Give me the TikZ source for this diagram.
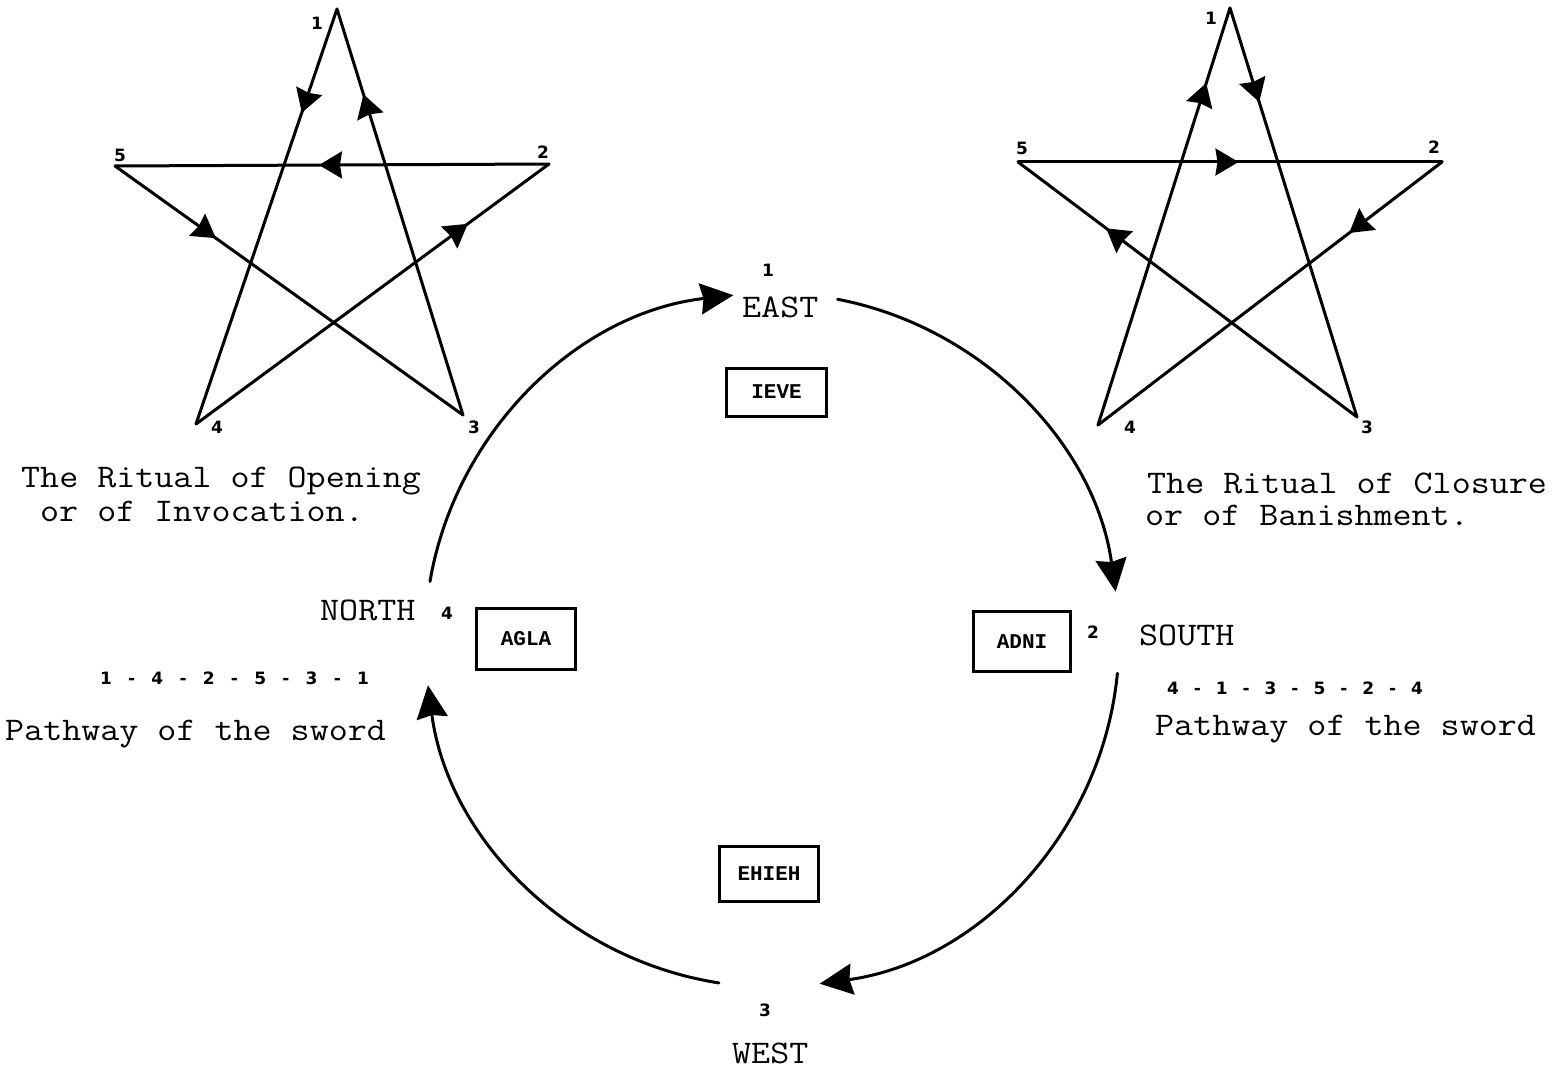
\documentclass[tikz,border=0pt]{standalone}
\usepackage{fontspec}
\usepackage{graphicx}
\setmainfont{Liberation Serif}
\newfontfamily\boxfont{Liberation Mono}
\newfontfamily\numfont{DejaVu Sans}
\usetikzlibrary{arrows.meta,decorations.markings}
\newcommand\cell[2]{\makebox[#1]{#2}}
\newcommand\tw[1]{\scalebox{1.12}[1]{#1}}
\begin{document}
\begin{tikzpicture}[x=1pt,y=1pt,
  edge/.style={line width=3pt,line cap=round},
  tipat/.style={postaction={decorate,decoration={markings,
      mark=at position #1 with {\arrow{Stealth[length=23pt,width=27pt,inset=2pt]}}}}},
  circarr/.style={line width=3pt,line cap=round,-{Stealth[length=33pt,width=31pt,inset=3pt]}},
  lbl/.style={inner sep=0pt,font=\numfont\bfseries\fontsize{17}{17}\selectfont},
  bigtxt/.style={inner sep=0pt,anchor=base west,font=\ttfamily\fontsize{33}{33}\selectfont},
  namebox/.style={draw,line width=3pt,inner sep=0pt,font=\boxfont\bfseries\fontsize{21}{21}\selectfont},
  seqtxt/.style={inner sep=0pt,font=\numfont\bfseries\fontsize{17}{17}\selectfont}
]
\fill[white] (0,0) rectangle (1561,-1070);
\useasboundingbox (0,0) rectangle (1561,-1070);

% ---------- left pentagram (invocation) ----------
\coordinate (L1) at (337,-9);
\coordinate (L2) at (549,-164);
\coordinate (L3) at (463,-415);
\coordinate (L4) at (196,-424);
\coordinate (L5) at (115,-166);
\draw[edge,tipat=0.25] (L1) -- (L4);
\draw[edge,tipat=0.77] (L4) -- (L2);
\draw[edge,tipat=0.53] (L2) -- (L5);
\draw[edge,tipat=0.29] (L5) -- (L3);
\draw[edge,tipat=0.79] (L3) -- (L1);
\node[lbl] (l1) at (317,-23) {1};
\node[lbl] (l2) at (543,-152) {2};
\node[lbl] (l3) at (474,-427) {3};
\node[lbl] (l4) at (217,-427) {4};
\node[lbl] (l5) at (120,-155) {5};

% ---------- right pentagram (banishment) ----------
\coordinate (R1) at (1230,-8);
\coordinate (R2) at (1442,-162);
\coordinate (R3) at (1357,-417);
\coordinate (R4) at (1098,-425);
\coordinate (R5) at (1018,-162);
\draw[edge,tipat=0.82] (R4) -- (R1);
\draw[edge,tipat=0.23] (R1) -- (R3);
\draw[edge,tipat=0.74] (R3) -- (R5);
\draw[edge,tipat=0.52] (R5) -- (R2);
\draw[edge,tipat=0.27] (R2) -- (R4);
\node[lbl] (r1) at (1211,-18) {1};
\node[lbl] (r2) at (1434,-147) {2};
\node[lbl] (r3) at (1367,-427) {3};
\node[lbl] (r4) at (1130,-427) {4};
\node[lbl] (r5) at (1022,-148) {5};

% ---------- captions ----------
\node[bigtxt] (capL1) at (21,-487) {\tw{The Ritual of Opening}};
\node[bigtxt] (capL2) at (40,-521) {\tw{or of Invocation.}};
\node[bigtxt] (capR1) at (1147,-493) {\tw{The Ritual of Closure}};
\node[bigtxt] (capR2) at (1145,-525) {\tw{or of Banishment.}};
\node[seqtxt] (seqL) at (234.5,-678) {\cell{25.7pt}{1}\cell{25.7pt}{-}\cell{25.7pt}{4}\cell{25.7pt}{-}\cell{25.7pt}{2}\cell{25.7pt}{-}\cell{25.7pt}{5}\cell{25.7pt}{-}\cell{25.7pt}{3}\cell{25.7pt}{-}\cell{25.7pt}{1}};
\node[seqtxt] (seqR) at (1295,-688) {\cell{24.4pt}{4}\cell{24.4pt}{-}\cell{24.4pt}{1}\cell{24.4pt}{-}\cell{24.4pt}{3}\cell{24.4pt}{-}\cell{24.4pt}{5}\cell{24.4pt}{-}\cell{24.4pt}{2}\cell{24.4pt}{-}\cell{24.4pt}{4}};
\node[bigtxt] (pathL) at (5,-740) {\tw{Pathway of the sword}};
\node[bigtxt] (pathR) at (1155,-735) {\tw{Pathway of the sword}};

% ---------- compass ----------
\node[bigtxt] (east) at (742,-317) {\tw{EAST}};
\node[bigtxt] (north) at (320,-620) {\tw{NORTH}};
\node[bigtxt] (south) at (1139,-645) {\tw{SOUTH}};
\node[bigtxt] (west) at (732,-1063) {\tw{WEST}};
\node[lbl] (n1) at (768,-270) {1};
\node[lbl] (n4) at (447,-613) {4};
\node[lbl] (n2) at (1093,-632) {2};
\node[lbl] (n3) at (765,-1010) {3};

\node[namebox,minimum width=100pt,minimum height=48pt] (ieve) at (776.5,-392) {IEVE};
\node[namebox,minimum width=99pt,minimum height=61pt] (agla) at (526,-639) {AGLA};
\node[namebox,minimum width=97pt,minimum height=60pt] (adni) at (1022,-641.5) {ADNI};
\node[namebox,minimum width=99pt,minimum height=55pt] (ehieh) at (769,-874) {EHIEH};

\coordinate (C) at (772,-640);
\path (C) ++(170.3:347) coordinate (a1s);
\path (C) ++(79.1:347) coordinate (a2s);
\path (C) ++(-5.5:347) coordinate (a3s);
\path (C) ++(-98.8:347) coordinate (a4s);
\draw[circarr] (a1s) arc[start angle=170.3,end angle=96.4,radius=347];
\draw[circarr] (a2s) arc[start angle=79.1,end angle=8.0,radius=347];
\draw[circarr] (a3s) arc[start angle=-5.5,end angle=-82.1,radius=347];
\draw[circarr] (a4s) arc[start angle=-98.8,end angle=-172.5,radius=347];
\end{tikzpicture}
\end{document}
